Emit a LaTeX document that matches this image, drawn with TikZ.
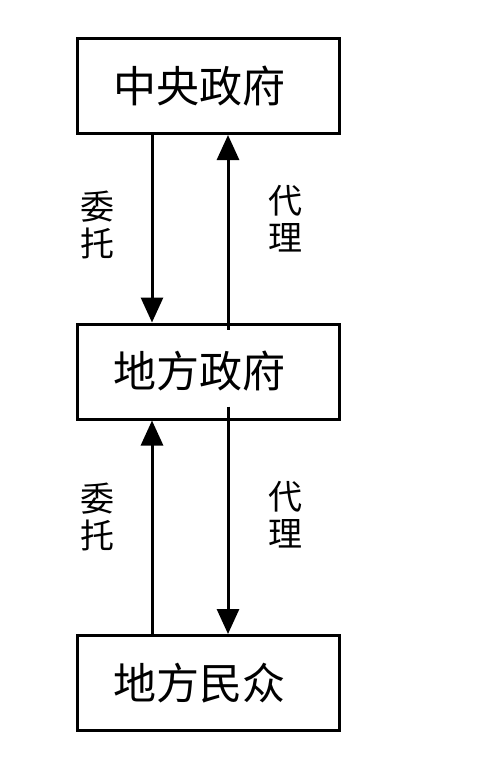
\documentclass[tikz,border=0pt]{standalone}
\usepackage{fontspec}
\newfontfamily\cjk{Noto Sans CJK SC}
\usetikzlibrary{positioning}
\usetikzlibrary{arrows.meta}
\usetikzlibrary{calc}

\begin{document}
\begin{tikzpicture}[
    x=1pt, y=1pt,
    level/.style={rectangle, draw, line width=3pt, text width=190pt, inner xsep=36pt, minimum height=95pt, align=left, font=\cjk\fontsize{43}{46}\selectfont},
    tag/.style={align=center, inner sep=0pt, font=\cjk\fontsize{34}{37}\selectfont},
    arrow/.style={-{Triangle[length=25pt, width=22pt]}, line width=3pt}
]
\useasboundingbox (0,0) rectangle (478,-758);

% Levels
\node[level] (central) at (208,-86) {中央政府};
\node[level, below=187.5pt of central] (local) {地方政府};
\node[level, below=213.5pt of local] (people) {地方民众};

% Labels
\node[tag] (entrust1) at (97,-225) {委\\托};
\node[tag] (agent1) at (285,-219) {代\\理};
\node[tag] (entrust2) at (97,-517) {委\\托};
\node[tag] (agent2) at (285,-515) {代\\理};

% Arrows
\draw[arrow] ([xshift=-56pt]central.south) -- ([xshift=-56pt]local.north);
\draw[arrow] ([xshift=20pt,yshift=-7pt]local.north) -- ([xshift=20pt]central.south);
\draw[arrow] ([xshift=-56pt]people.north) -- ([xshift=-56pt]local.south);
\draw[arrow] ([xshift=20pt,yshift=14pt]local.south) -- ([xshift=20pt]people.north);
\end{tikzpicture}
\end{document}
